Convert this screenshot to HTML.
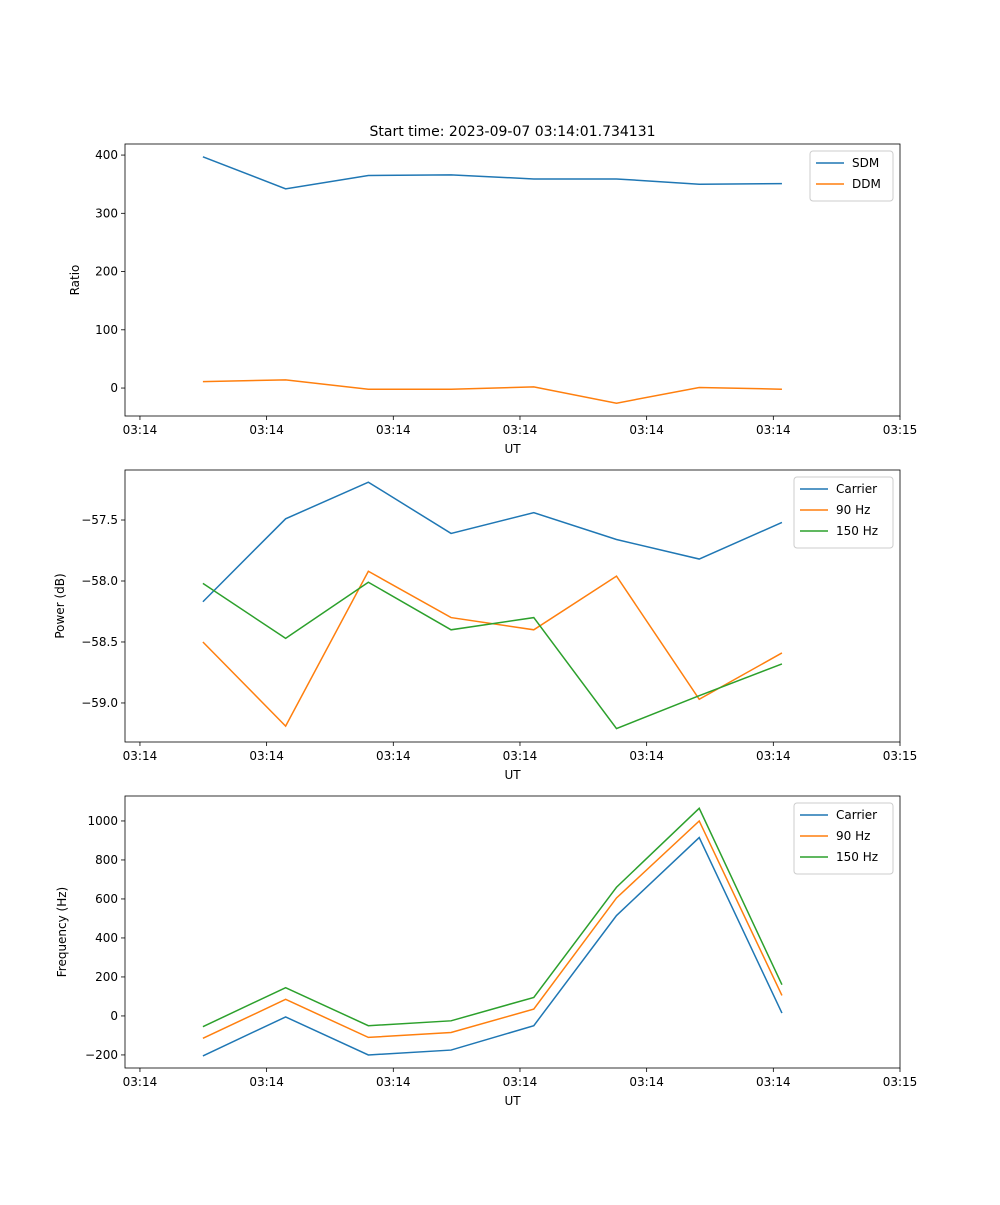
<!DOCTYPE html>
<html><head><meta charset="utf-8"><style>
body{margin:0;background:#fff;font-family:"Liberation Sans","DejaVu Sans",sans-serif;}
svg text{font-family:"DejaVu Sans","Liberation Sans",sans-serif;font-size:12px;fill:#000}
</style></head><body>
<svg id="fig" width="1000" height="1200"></svg>
<script>
const times=[4.97,11.5,18.03,24.56,31.09,37.62,44.15,50.68];
const xTickVals=[0,10,20,30,40,50,60];
const xTickLabels=["03:14","03:14","03:14","03:14","03:14","03:14","03:15"];
const sdm=[397,342,365,366,359,359,350,351];
const ddm=[11,14,-2,-2,2,-26,1,-2];
const powCarrier=[-58.17,-57.49,-57.19,-57.61,-57.44,-57.66,-57.82,-57.52];
const pow90=[-58.50,-59.19,-57.92,-58.30,-58.40,-57.96,-58.97,-58.59];
const pow150=[-58.02,-58.47,-58.01,-58.40,-58.30,-59.21,-58.94,-58.68];
const freqCarrier=[-205,-5,-200,-175,-50,515,915,15];
const freq90=[-115,85,-110,-85,35,605,1000,105];
const freq150=[-55,145,-50,-25,95,660,1065,160];
const ticks1=[0,100,200,300,400];
const ticks2=[-59.0,-58.5,-58.0,-57.5];
const ticks3=[-200,0,200,400,600,800,1000];
const NS="http://www.w3.org/2000/svg";
const svg=document.getElementById('fig');
function mk(tag,attrs,parent){const e=document.createElementNS(NS,tag);for(const k in attrs)e.setAttribute(k,attrs[k]);(parent||svg).appendChild(e);return e;}
function fmt(v,d){return (v<0?"\u2212":"")+Math.abs(v).toFixed(d);}
const X0=125,X1=900,xmin=-1.18,xmax=60;
const xs=v=>X0+(v-xmin)/(xmax-xmin)*(X1-X0);
function panel(top,bottom,ymin,ymax,yticks,dec,ylabel,cx,series,name,legendW){
  const g=mk('g',{});
  
  
  const ys=v=>bottom-(v-ymin)/(ymax-ymin)*(bottom-top);
  xTickVals.forEach((v,i)=>{const x=xs(v);
    mk('line',{x1:x,x2:x,y1:bottom,y2:bottom+4,stroke:'#000','stroke-width':0.8},g);
    const t=mk('text',{x:x,y:bottom+18,'text-anchor':'middle'},g);t.textContent=xTickLabels[i];
    });
  yticks.forEach((v,i)=>{const y=ys(v);
    mk('line',{x1:X0-4,x2:X0,y1:y,y2:y,stroke:'#000','stroke-width':0.8},g);
    const t=mk('text',{x:X0-7,y:y+4,'text-anchor':'end'},g);t.textContent=fmt(v,dec);
    });
  const xl=mk('text',{x:(X0+X1)/2,y:bottom+37,'text-anchor':'middle'},g);xl.textContent='UT';
  
  const cy=(top+bottom)/2;
  const yl=mk('text',{x:cx,y:cy,'text-anchor':'middle',transform:`rotate(-90 ${cx} ${cy})`},g);yl.textContent=ylabel;
  
  series.forEach(s=>{
    const p=mk('polyline',{points:times.map((t,i)=>xs(t)+','+ys(s.data[i])).join(' '),fill:'none',stroke:s.color,'stroke-width':1.5},g);
    });
  mk('rect',{x:X0,y:top,width:X1-X0,height:bottom-top,fill:'none',stroke:'#000','stroke-width':0.8},g);
  const lh=series.length*21+8, lx=X1-7-legendW, ly=top+7;
  const lg=mk('g',{},g);
  mk('rect',{x:lx,y:ly,width:legendW,height:lh,rx:3,fill:'#fff',stroke:'#ccc','stroke-width':1},lg);
  series.forEach((s,i)=>{const y=ly+12+i*21;
    mk('line',{x1:lx+6,x2:lx+34,y1:y,y2:y,stroke:s.color,'stroke-width':1.5},lg);
    const t=mk('text',{x:lx+42,y:y+4},lg);t.textContent=s.label;
    });
}
const B='#1f77b4',O='#ff7f0e',G='#2ca02c';
const title=mk('text',{x:512.5,y:136,'text-anchor':'middle'});
title.setAttribute('style','font-size:14px');title.textContent='Start time: 2023-09-07 03:14:01.734131';

panel(144,416,-48,419,ticks1,0,'Ratio',79,[{key:'sdm',label:'SDM',data:sdm,color:B},{key:'ddm',label:'DDM',data:ddm,color:O}],'ratio-panel',83);
panel(470,742,-59.32,-57.09,ticks2,1,'Power (dB)',64,[{key:'carrier',label:'Carrier',data:powCarrier,color:B},{key:'90hz',label:'90 Hz',data:pow90,color:O},{key:'150hz',label:'150 Hz',data:pow150,color:G}],'power-panel',99);
panel(796,1068,-267,1128,ticks3,0,'Frequency (Hz)',66,[{key:'carrier',label:'Carrier',data:freqCarrier,color:B},{key:'90hz',label:'90 Hz',data:freq90,color:O},{key:'150hz',label:'150 Hz',data:freq150,color:G}],'frequency-panel',99);
</script>
</body></html>
